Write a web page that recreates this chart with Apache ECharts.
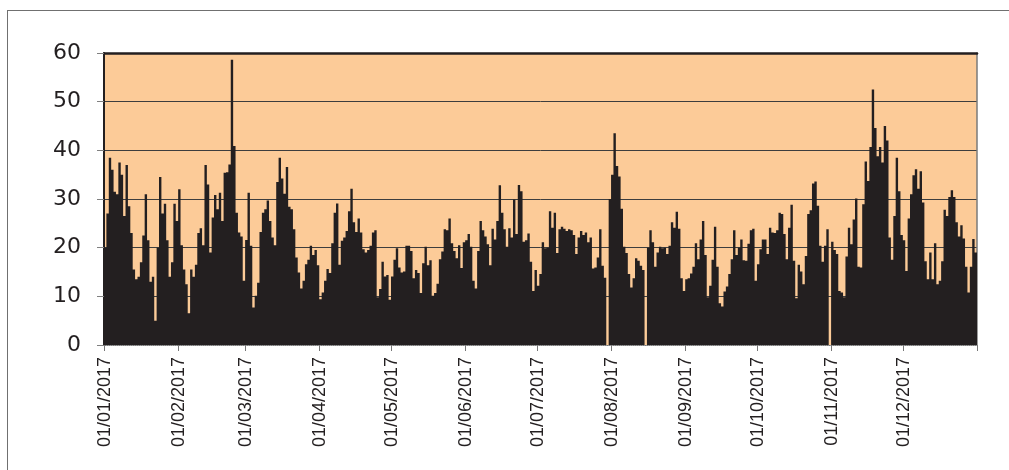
<!DOCTYPE html>
<html>
<head>
<meta charset="utf-8">
<script src="https://cdn.jsdelivr.net/npm/echarts@6/dist/echarts.min.js"></script>
<style>
  html, body { margin: 0; padding: 0; background: #fff; }
  #chart { width: 1009px; height: 470px; }
</style>
</head>
<body>
<div id="chart"></div>
<script>
// daily values, one array per month (2017)
const jan = [20, 27, 38.5, 36, 31.5, 31, 37.5, 35, 26.5, 37, 28.5, 23, 15.5, 13.5, 14, 17, 22.5, 31, 21.5, 13, 14, 5, 20, 34.5, 27, 29, 21.5, 14, 17, 29, 25.5];
const feb = [32, 20.5, 15.5, 12.5, 6.5, 15.5, 14, 16.5, 23, 24, 20.5, 37, 33, 19, 26.2, 30.8, 27.9, 31.3, 25.5, 35.4, 35.5, 37.1, 58.6, 40.9, 27.2, 23.1, 22.3, 13.2];
const mar = [21.6, 31.3, 20.4, 7.7, 10.1, 12.8, 23.2, 27.2, 27.9, 29.7, 25.5, 22.1, 20.5, 33.5, 38.5, 34.2, 31.1, 36.6, 28.4, 27.9, 23.8, 18, 14.9, 11.6, 13.2, 16.6, 17.5, 20.4, 18.5, 19.5, 16.4];
const apr = [9.4, 10.8, 13.2, 15.6, 14.8, 20.9, 27.2, 29.1, 16.5, 21.4, 22.1, 23.4, 27.5, 32.1, 25.2, 23.2, 26, 23.1, 19.7, 19, 19.5, 20.4, 23.1, 23.6, 9.8, 11.5, 17.1, 14.1, 14.4, 9.3];
const may = [14.1, 17.5, 19.9, 15.9, 14.9, 15.1, 20.4, 20.4, 19.3, 13.7, 15.4, 14.8, 10.7, 16.8, 20.2, 16.4, 17.4, 10.1, 10.7, 12.6, 17.6, 19.2, 23.8, 23.6, 26, 20.9, 19.3, 17.8, 20.5, 15.8, 21.1];
const jun = [21.5, 22.8, 20.2, 13.2, 11.6, 19.3, 25.5, 23.6, 22.3, 20.7, 16.4, 23.9, 21.7, 25.5, 32.8, 27.2, 23.8, 20.2, 24, 22.1, 29.9, 22.8, 32.9, 31.6, 21.2, 21.5, 22.9, 17.1, 11.1, 15.4];
const jul = [12.2, 14.6, 21.1, 19.9, 20, 27.5, 24.1, 27.2, 18.9, 23.8, 24.3, 23.9, 23.4, 23.8, 23.6, 22.6, 18.7, 22.1, 23.4, 22.6, 23.1, 21.1, 22.1, 15.7, 15.9, 18, 23.8, 16.3, 13.8, 0, 30];
const aug = [35, 43.5, 36.8, 34.6, 28, 20.2, 18.9, 14.6, 11.8, 13.7, 17.8, 17.3, 16.3, 15.4, 0, 20, 23.6, 21.1, 16.1, 19, 20.2, 19.9, 20, 18.7, 20.4, 25.2, 24.1, 27.4, 23.9, 13.7, 11.1];
const sep = [13.5, 13.7, 14.7, 16.1, 20.9, 17.6, 21.7, 25.5, 18.5, 9.8, 12.2, 17.5, 24.3, 16.1, 8.6, 7.9, 11, 12, 14.6, 17.6, 23.6, 18.5, 20, 21.7, 17.4, 17.3, 20.8, 23.6, 23.9, 13.2];
const oct = [16.6, 19.7, 21.7, 21.7, 18.7, 24.1, 23.1, 23, 23.6, 27.2, 26.9, 22.8, 17.6, 24.1, 28.8, 17.3, 9.6, 16.5, 15.1, 12.5, 18.3, 26.9, 27.7, 33.2, 33.6, 28.6, 20.4, 17.1, 20.4, 23.8, 0];
const nov = [21.2, 19.5, 18.7, 11.1, 10.8, 9.8, 18.2, 24.1, 20.7, 25.8, 30.1, 16.1, 15.9, 28.9, 37.7, 33.7, 40.7, 52.5, 44.6, 38.8, 40.7, 37.5, 45, 42, 22.1, 17.5, 26.5, 38.5, 31.6, 22.6];
const dec = [21.5, 15.2, 26, 31, 34.9, 36.1, 32.1, 35.7, 29.3, 17.2, 13.5, 19, 13.5, 20.9, 12.5, 13.2, 17.2, 27.8, 26.5, 30.4, 31.8, 30.4, 25.2, 22.3, 24.6, 21.9, 16.1, 10.8, 16.1, 21.8, 19];

const monthDays = [31, 28, 31, 30, 31, 30, 31, 31, 30, 31, 30, 31];
const monthLabels = ['01/01/2017', '01/02/2017', '01/03/2017', '01/04/2017', '01/05/2017', '01/06/2017',
  '01/07/2017', '01/08/2017', '01/09/2017', '01/10/2017', '01/11/2017', '01/12/2017'];

const values = [].concat(jan, feb, mar, apr, may, jun, jul, aug, sep, oct, nov, dec);

// one category per day, dd/mm/2017
const pad = n => (n < 10 ? '0' + n : '' + n);
const days = [];
monthDays.forEach((n, m) => {
  for (let d = 1; d <= n; d++) days.push(pad(d) + '/' + pad(m + 1) + '/2017');
});
const isMonthStart = (i) => monthLabels.indexOf(days[i]) >= 0;

const chart = echarts.init(document.getElementById('chart'));

const option = {
  animation: false,
  backgroundColor: '#fff',
  grid: {
    left: 104, top: 53, right: 32, bottom: 125,
    show: true, backgroundColor: '#FCCB98', borderWidth: 0
  },
  graphic: [
    { type: 'line', shape: { x1: 7, y1: 10.5, x2: 1009, y2: 10.5 }, style: { stroke: '#707070', lineWidth: 1 } },
    { type: 'line', shape: { x1: 7.5, y1: 10, x2: 7.5, y2: 470 }, style: { stroke: '#707070', lineWidth: 1 } }
  ],
  xAxis: [{
    type: 'category',
    data: days,
    boundaryGap: true,
    axisLine: { show: true, lineStyle: { color: '#9a9a9a', width: 1, type: 'dotted' } },
    axisTick: { show: true, interval: isMonthStart, length: 6, lineStyle: { color: '#777', width: 1 } },
    axisLabel: {
      interval: isMonthStart,
      rotate: 90,
      margin: 12,
      color: '#231F20',
      fontSize: 18,
      fontFamily: "'Liberation Sans', Arial, sans-serif"
    },
    splitLine: { show: false }
  }, {
    type: 'value',
    position: 'top',
    axisLine: { show: true, onZero: false, lineStyle: { color: '#231F20', width: 2.5 } },
    axisTick: { show: false },
    axisLabel: { show: false },
    splitLine: { show: false }
  }],
  yAxis: [{
    type: 'value',
    min: 0, max: 60, interval: 10,
    axisLine: { show: true, lineStyle: { color: '#231F20', width: 2 } },
    axisTick: { show: true, length: 7, lineStyle: { color: '#808080', width: 1 } },
    axisLabel: {
      margin: 23,
      color: '#231F20',
      fontSize: 22,
      fontFamily: "'DejaVu Sans', sans-serif"
    },
    splitLine: { show: true, lineStyle: { color: '#3d3d3d', width: 1 } }
  }, {
    type: 'value',
    position: 'right',
    min: 0, max: 60,
    axisLine: { show: true, onZero: false, lineStyle: { color: '#7a7a7a', width: 1.5 } },
    axisTick: { show: false },
    axisLabel: { show: false },
    splitLine: { show: false }
  }],
  series: [{
    type: 'bar',
    data: values,
    xAxisIndex: 0,
    yAxisIndex: 0,
    // large mode draws all bars as one path, so adjacent days join without seams
    large: true,
    largeThreshold: 100,
    barCategoryGap: '0%',
    itemStyle: { color: '#231F20' }
  }]
};

chart.setOption(option);
window.onresize = function () { chart.resize(); };
</script>
</body>
</html>
